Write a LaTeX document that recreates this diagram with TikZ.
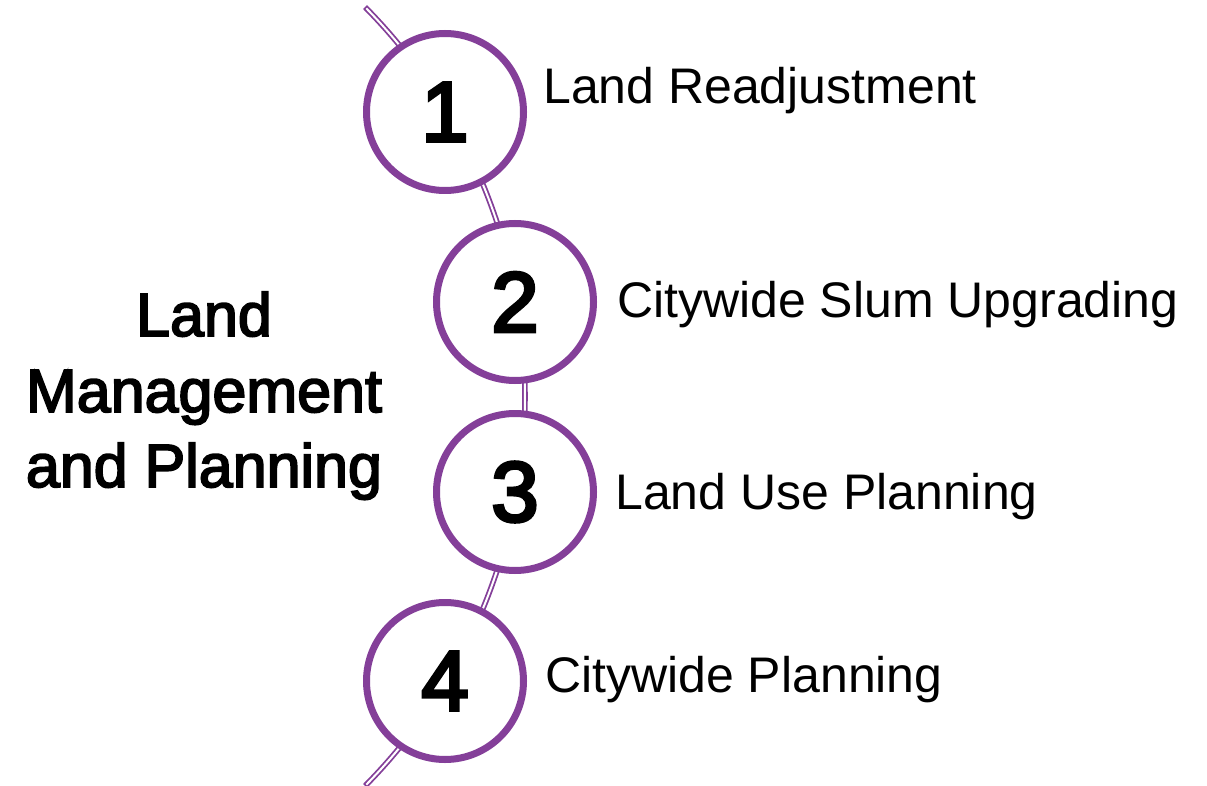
\documentclass[tikz,border=0pt]{standalone}
\usepackage{fontspec}
\setmainfont{Liberation Sans}
\newfontfamily\medfont[FakeBold=3]{Liberation Sans}
\newfontfamily\digitfont[FakeBold=4]{Liberation Sans}
\definecolor{cpurple}{HTML}{843F99}
\begin{document}
\begin{tikzpicture}[x=1pt,y=1pt,
  numcircle/.style={circle, draw=cpurple, line width=7pt, fill=white, minimum size=157pt, inner sep=0pt, font=\digitfont\fontsize{85}{85}\selectfont},
  itemlabel/.style={anchor=base west, inner sep=0pt, font=\fontsize{50}{60}\selectfont},
  titlelabel/.style={anchor=base, inner sep=0pt, font=\medfont\fontsize{61}{75}\selectfont},
  spineouter/.style={draw=cpurple, line width=5.6pt},
  spineinner/.style={draw=white, line width=2pt}]
\useasboundingbox (0,0) rectangle (1207,-786);
\coordinate (arcc) at (-29.1,-396.5);
\draw[spineouter] (arcc) ++(44.66:554.1pt) arc[start angle=44.66, end angle=-44.66, radius=554.1pt];
\draw[spineinner] (arcc) ++(44.47:554.1pt) arc[start angle=44.47, end angle=-44.47, radius=554.1pt];
\node[numcircle] (c1) at (445,-112) {1};
\node[numcircle] (c2) at (515,-302) {2};
\node[numcircle] (c3) at (515,-492) {3};
\node[numcircle] (c4) at (445,-681) {4};
\node[itemlabel] (t1) at (543,-104) {Land Readjustment};
\node[itemlabel] (t2) at (617,-317) {Citywide Slum Upgrading};
\node[itemlabel] (t3) at (615,-509) {Land Use Planning};
\node[itemlabel] (t4) at (545,-692) {Citywide Planning};
\node[titlelabel] (h1) at (204,-336) {Land};
\node[titlelabel] (h2) at (204,-412) {Management};
\node[titlelabel] (h3) at (204,-487) {and Planning};
\end{tikzpicture}
\end{document}
